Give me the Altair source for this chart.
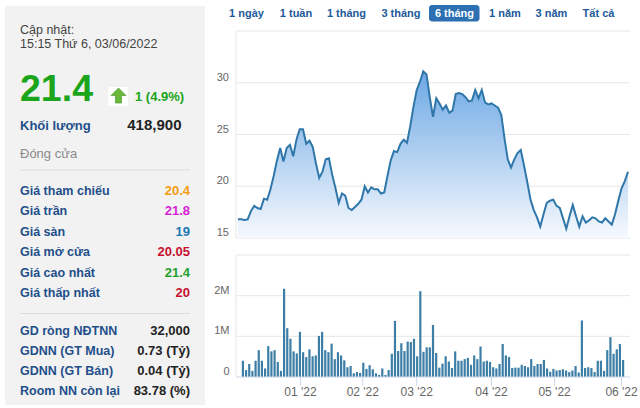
import altair as alt
import pandas as pd

# ---------------- data ----------------
price = [16.8, 16.8, 16.75, 16.8, 17.6, 18.1, 17.9, 17.8, 18.8, 18.7,
         19.7, 21.0, 22.5, 23.7, 22.4, 23.7, 24.0, 22.9, 24.5, 25.5,
         25.5, 24.1, 24.4, 23.8, 22.2, 20.8, 21.4, 22.6, 22.7, 21.1,
         19.8, 18.4, 19.3, 19.1, 17.9, 17.7, 18.0, 18.3, 18.7, 20.0,
         19.4, 19.9, 19.7, 19.7, 19.3, 19.4, 21.0, 22.5, 23.4, 23.3,
         24.1, 24.5, 24.2, 25.8, 27.7, 29.3, 30.1, 31.1, 30.8, 28.6,
         26.7, 28.5, 28.0, 27.4, 27.8, 27.1, 27.3, 28.9, 29.0, 28.9,
         28.6, 28.2, 28.3, 29.3, 28.5, 29.3, 28.1, 27.9, 28.0, 27.8,
         27.6, 26.9, 24.6, 22.6, 21.8, 22.6, 23.2, 23.5, 22.0, 20.4,
         18.7, 17.7, 17.0, 16.1, 17.3, 18.4, 18.6, 18.7, 18.1, 17.9,
         16.9, 15.9, 17.1, 18.2, 17.1, 16.1, 17.1, 16.5, 16.7, 17.0,
         16.9, 16.6, 16.5, 16.9, 16.6, 16.3, 17.3, 18.6, 19.8, 20.5,
         21.4]

volume_m = [0.40, 0.17, 0.32, 0.15, 0.40, 0.66, 0.40, 0.21, 0.76, 0.63,
            0.66, 0.37, 0.15, 2.17, 1.20, 0.94, 0.63, 0.58, 1.11, 0.61,
            0.49, 0.68, 0.51, 0.53, 1.01, 1.11, 0.66, 0.61, 0.82, 0.44,
            0.61, 0.53, 0.41, 0.24, 0.27, 0.09, 0.12, 0.10, 0.35, 0.20,
            0.29, 0.19, 0.09, 0.05, 0.21, 0.05, 0.17, 0.57, 1.38, 0.64,
            0.83, 0.64, 0.87, 0.86, 0.94, 0.51, 2.11, 0.62, 0.73, 0.73,
            1.28, 0.59, 0.23, 0.33, 0.51, 0.38, 0.22, 0.63, 0.40, 0.40,
            0.44, 0.47, 0.30, 0.53, 0.44, 0.75, 0.38, 0.40, 0.37, 0.24,
            0.21, 0.32, 0.81, 0.53, 0.49, 0.22, 0.23, 0.23, 0.30, 0.27,
            0.24, 0.44, 0.27, 0.32, 0.32, 0.42, 0.21, 0.13, 0.20, 0.16,
            0.17, 0.19, 0.16, 0.12, 0.16, 0.27, 0.11, 1.39, 0.22, 0.24,
            0.22, 0.12, 0.40, 0.40, 0.15, 0.66, 0.98, 0.57, 0.68, 0.81,
            0.419]

# month boundaries on the trading-day (ordinal) axis
month_pos = [19.25, 38.4, 55, 78, 97.4, 118]
month_labels = ["01 '22", "02 '22", "03 '22", "04 '22", "05 '22", "06 '22"]

price_ticks = [15, 20, 25, 30]
vol_ticks = [0, 1, 2]
vol_tick_labels = ["0", "1M", "2M"]

range_buttons = ["1 ngày", "1 tuần", "1 tháng", "3 tháng", "6 tháng", "1 năm", "3 năm", "Tất cả"]
selected_range = "6 tháng"

update_label = "Cập nhật:"
update_time = "15:15 Thứ 6, 03/06/2022"
last_price = "21.4"
change_text = "1 (4.9%)"
volume_label = "Khối lượng"
volume_value = "418,900"
status_text = "Đóng cửa"

quote_labels = ["Giá tham chiếu", "Giá trần", "Giá sàn", "Giá mở cửa", "Giá cao nhất", "Giá thấp nhất"]
quote_values = ["20.4", "21.8", "19", "20.05", "21.4", "20"]
quote_colors = ["#f39c12", "#d61fd6", "#1d77b3", "#c8102e", "#1fa22a", "#c8102e"]

foreign_labels = ["GD ròng NĐTNN", "GDNN (GT Mua)", "GDNN (GT Bán)", "Room NN còn lại"]
foreign_values = ["32,000", "0.73 (Tỷ)", "0.04 (Tỷ)", "83.78 (%)"]

# ---------------- layout / style ----------------
FONT = "Liberation Sans"
LABEL_BLUE = "#1f4f8a"
GREEN = "#1aa51a"
GRID = "#e6e6e6"
AXIS = "#ccd6eb"
TICK_TEXT = "#666666"
PLOT_L, PLOT_R = 236, 630
P_TOP, P_BOT = 31, 238
V_TOP, V_BOT = 255, 377
button_x = [246.5, 296, 346.5, 401, 454.5, 505, 551.5, 598.5]

n = len(price)
series = pd.DataFrame({"i": list(range(n)), "price": price, "vol": volume_m})

x_scale = alt.Scale(domain=[-0.6, n - 0.4], range=[PLOT_L, PLOT_R], nice=False, zero=False)
p_scale = alt.Scale(domain=[15, 35], range=[P_BOT, P_TOP], nice=False, zero=False)
v_scale = alt.Scale(domain=[0, 3], range=[V_BOT, V_TOP], nice=False, zero=False)


def text_at(text, x, y, size, color, weight="normal", align="left"):
    return alt.Chart(pd.DataFrame({"t": [text]})).mark_text(
        align=align, baseline="alphabetic", fontSize=size, font=FONT,
        fontWeight=weight, color=color
    ).encode(x=alt.value(x), y=alt.value(y), text="t:N")


one = pd.DataFrame({"a": [0]})
layers = []

# ---- left info panel ----
layers.append(alt.Chart(one).mark_rect(color="#f2f2f2").encode(
    x=alt.value(5), x2=alt.value(205), y=alt.value(6), y2=alt.value(405)))
layers.append(text_at(update_label, 20, 33.5, 12.5, "#444444"))
layers.append(text_at(update_time, 20, 48, 12.5, "#444444"))
layers.append(text_at(last_price, 20, 100.5, 37.5, GREEN, "bold"))
layers.append(alt.Chart(one).mark_rect(color="white").encode(
    x=alt.value(108.5), x2=alt.value(128), y=alt.value(87), y2=alt.value(106)))
layers.append(alt.Chart(one).mark_point(
    shape="M0,-1L1,0L0.4,0L0.4,1L-0.4,1L-0.4,0L-1,0Z", size=225, filled=True,
    fill="#6cb83a", stroke="#3f8f22", strokeWidth=0.6, opacity=1
).encode(x=alt.value(118.5), y=alt.value(95.5)))
layers.append(text_at(change_text, 135, 100.5, 13, GREEN, "bold"))
layers.append(text_at(volume_label, 20, 129.5, 13, LABEL_BLUE, "bold"))
layers.append(text_at(volume_value, 181.5, 129.5, 15, "#222222", "bold", "right"))
layers.append(text_at(status_text, 20, 157.5, 13, "#8a8a8a"))
for yy in (170, 313.5):
    layers.append(alt.Chart(one).mark_rule(color="#dcdcdc", strokeWidth=1).encode(
        x=alt.value(20), x2=alt.value(190), y=alt.value(yy)))

quotes = pd.DataFrame({"k": list(range(len(quote_labels))), "label": quote_labels,
                       "value": quote_values, "color": quote_colors})
q_y = alt.Y("k:Q", scale=alt.Scale(domain=[0, len(quote_labels) - 1], range=[195, 297.2]), axis=None)
layers.append(alt.Chart(quotes).mark_text(
    align="left", baseline="alphabetic", fontSize=12.5, font=FONT, fontWeight="bold", color=LABEL_BLUE
).encode(x=alt.value(20), y=q_y, text="label:N"))
layers.append(alt.Chart(quotes).mark_text(
    align="right", baseline="alphabetic", fontSize=13, font=FONT, fontWeight="bold"
).encode(x=alt.value(190), y=q_y, text="value:N", color=alt.Color("color:N", scale=None)))

foreign = pd.DataFrame({"k": list(range(len(foreign_labels))), "label": foreign_labels,
                        "value": foreign_values})
f_y = alt.Y("k:Q", scale=alt.Scale(domain=[0, len(foreign_labels) - 1], range=[334.5, 394.5]), axis=None)
layers.append(alt.Chart(foreign).mark_text(
    align="left", baseline="alphabetic", fontSize=12.5, font=FONT, fontWeight="bold", color=LABEL_BLUE
).encode(x=alt.value(20), y=f_y, text="label:N"))
layers.append(alt.Chart(foreign).mark_text(
    align="right", baseline="alphabetic", fontSize=13, font=FONT, fontWeight="bold", color="#222222"
).encode(x=alt.value(190), y=f_y, text="value:N"))

# ---- range selector ----
layers.append(alt.Chart(one).mark_rect(color="#2c6fb3", cornerRadius=3).encode(
    x=alt.value(429), x2=alt.value(479.5), y=alt.value(5), y2=alt.value(21.5)))
buttons = pd.DataFrame({"label": range_buttons, "bx": button_x})
layers.append(alt.Chart(buttons).mark_text(
    align="center", baseline="alphabetic", fontSize=11, font=FONT, fontWeight="bold"
).encode(
    x=alt.X("bx:Q", scale=None), y=alt.value(17),
    text="label:N",
    color=alt.condition(alt.datum.label == selected_range, alt.value("white"), alt.value("#21599a")),
))

# ---- price panel ----
p_grid = pd.DataFrame({"g": [15, 20, 25, 30, 35]})
layers.append(alt.Chart(p_grid).mark_rule(color=GRID, strokeWidth=1).encode(
    y=alt.Y("g:Q", scale=p_scale, axis=None), x=alt.value(PLOT_L), x2=alt.value(PLOT_R)))
layers.append(alt.Chart(one).mark_rule(color=GRID, strokeWidth=1).encode(
    x=alt.value(PLOT_L), y=alt.value(P_TOP), y2=alt.value(P_BOT)))
layers.append(alt.Chart(pd.DataFrame({"g": price_ticks, "t": [str(v) for v in price_ticks]})).mark_text(
    align="right", baseline="alphabetic", fontSize=11, font=FONT, color=TICK_TEXT, dy=-2
).encode(y=alt.Y("g:Q", scale=p_scale, axis=None), x=alt.value(229), text="t:N"))

gradient = alt.LinearGradient(
    gradient="linear",
    stops=[alt.GradientStop(color="#f6f9fe", offset=0), alt.GradientStop(color="#6da8e4", offset=1)],
    x1=1, x2=1, y1=1, y2=0,
)
layers.append(alt.Chart(series).mark_area(color=gradient).encode(
    x=alt.X("i:Q", scale=x_scale, axis=None),
    y=alt.Y("price:Q", scale=p_scale, axis=None),
    y2=alt.datum(15),
))
layers.append(alt.Chart(series).mark_line(color="#2f77aa", strokeWidth=2).encode(
    x=alt.X("i:Q", scale=x_scale, axis=None),
    y=alt.Y("price:Q", scale=p_scale, axis=None),
))

# ---- volume panel ----
v_grid = pd.DataFrame({"g": [1, 2, 3]})
layers.append(alt.Chart(v_grid).mark_rule(color=GRID, strokeWidth=1).encode(
    y=alt.Y("g:Q", scale=v_scale, axis=None), x=alt.value(PLOT_L), x2=alt.value(PLOT_R)))
layers.append(alt.Chart(one).mark_rule(color=GRID, strokeWidth=1).encode(
    x=alt.value(PLOT_L), y=alt.value(V_TOP), y2=alt.value(V_BOT)))
layers.append(alt.Chart(pd.DataFrame({"g": vol_ticks, "t": vol_tick_labels})).mark_text(
    align="right", baseline="alphabetic", fontSize=11, font=FONT, color=TICK_TEXT, dy=-2
).encode(y=alt.Y("g:Q", scale=v_scale, axis=None), x=alt.value(229.5), text="t:N"))
layers.append(alt.Chart(series).mark_bar(size=2.2, color="#3d7ea6").encode(
    x=alt.X("i:Q", scale=x_scale, axis=None),
    y=alt.Y("vol:Q", scale=v_scale, axis=None),
))
layers.append(alt.Chart(one).mark_rule(color=AXIS, strokeWidth=1).encode(
    x=alt.value(PLOT_L), x2=alt.value(PLOT_R), y=alt.value(V_BOT)))
months = pd.DataFrame({"m": month_pos, "label": month_labels})
layers.append(alt.Chart(months).mark_rule(color=AXIS, strokeWidth=1).encode(
    x=alt.X("m:Q", scale=x_scale, axis=None), y=alt.value(V_BOT), y2=alt.value(386)))
layers.append(alt.Chart(months).mark_text(
    align="center", baseline="alphabetic", fontSize=12, font=FONT, color=TICK_TEXT
).encode(x=alt.X("m:Q", scale=x_scale, axis=None), y=alt.value(396), text="label:N"))

chart = alt.layer(*layers).resolve_scale(
    x="independent", y="independent", color="independent"
).properties(
    width=640, height=408, padding=0,
    autosize=alt.AutoSizeParams(type="none"), background="white",
).configure_view(stroke=None)

chart.save("out.html", embed_options={"renderer": "svg", "actions": False})
